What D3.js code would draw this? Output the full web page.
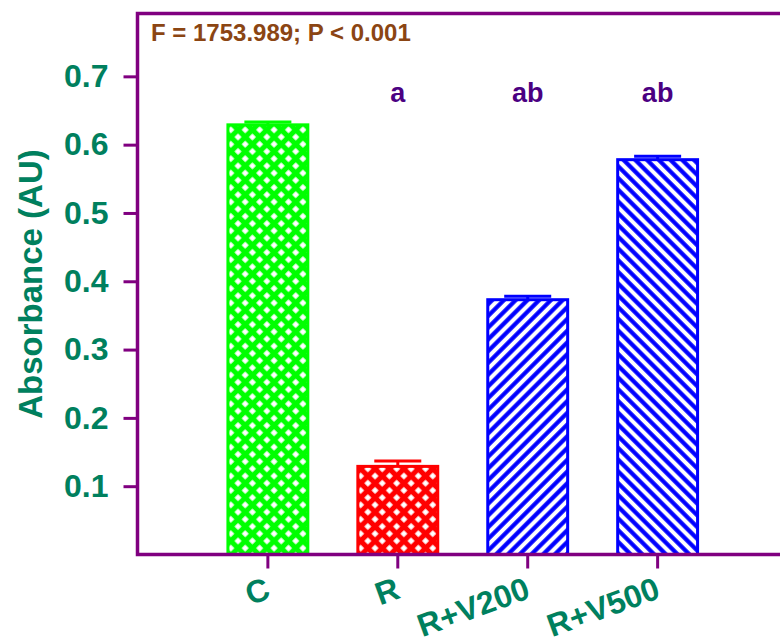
<!DOCTYPE html>
<html>
<head>
<meta charset="utf-8">
<script src="https://cdn.jsdelivr.net/npm/d3@7"></script>
<style>
  body { margin: 0; background: #fff; }
  text { font-family: "Liberation Sans", Arial, sans-serif; font-weight: bold; }
</style>
</head>
<body>
<div id="chart"></div>
<script>
var w = 780, h = 643;

//Data
var categories = ["C", "R", "R+V200", "R+V500"];
var means = [0.629, 0.129, 0.373, 0.578];
var errors = [0.004, 0.008, 0.005, 0.005];
var letters = ["", "a", "ab", "ab"];
var yTicks = [0.1, 0.2, 0.3, 0.4, 0.5, 0.6, 0.7];
var statText = "F = 1753.989; P < 0.001";

var colors = ["#00ff00", "#ff0000", "#0000ff", "#0000ff"];
var fills = ["url(#cross-green)", "url(#cross-red)", "url(#hatch-up)", "url(#hatch-down)"];

// plot frame (note: "top" is reserved on window)
var plotLeft = 137.5, plotTop = 13.5, plotBottom = 554.5;
var axisColor = "#800080", labelColor = "#00805e";

var svg = d3.select("#chart").append("svg")
    .attr("width", w)
    .attr("height", h);

var defs = svg.append("defs");

//crosshatch patterns
function cross(id, col) {
    var s = 10.2;
    var p = defs.append("pattern")
        .attr("id", id)
        .attr("patternUnits", "userSpaceOnUse")
        .attr("width", s).attr("height", s)
        .attr("patternTransform", "rotate(45)");
    p.append("rect").attr("width", s).attr("height", s).attr("fill", "#fff");
    p.append("line").attr("x1", s / 2).attr("x2", s / 2).attr("y1", 0).attr("y2", s)
        .attr("stroke", col).attr("stroke-width", 5.2);
    p.append("line").attr("y1", s / 2).attr("y2", s / 2).attr("x1", 0).attr("x2", s)
        .attr("stroke", col).attr("stroke-width", 5.2);
}
cross("cross-green", "#00ff00");
cross("cross-red", "#ff0000");

//diagonal hatch patterns
function hatch(id, col, angle) {
    var s = 8.3;
    var p = defs.append("pattern")
        .attr("id", id)
        .attr("patternUnits", "userSpaceOnUse")
        .attr("width", s).attr("height", s)
        .attr("patternTransform", "rotate(" + angle + ")");
    p.append("rect").attr("width", s).attr("height", s).attr("fill", "#fff");
    p.append("line").attr("x1", s / 2).attr("x2", s / 2).attr("y1", 0).attr("y2", s)
        .attr("stroke", col).attr("stroke-width", 4.2);
}
hatch("hatch-up", "#0000ff", 45);
hatch("hatch-down", "#0000ff", -45);

//Scales
var x = d3.scaleBand()
    .domain(categories)
    .range([plotLeft, 788])
    .paddingInner(0.385)
    .paddingOuter(0.696);

var y = d3.scaleLinear()
    .domain([0, 0.792])
    .range([plotBottom, plotTop]);

//Bars
var g = svg.append("g");
g.selectAll("rect.bar")
    .data(categories)
    .enter().append("rect")
    .attr("class", "bar")
    .attr("x", function(d) { return x(d); })
    .attr("width", x.bandwidth())
    .attr("y", function(d, i) { return y(means[i]); })
    .attr("height", function(d, i) { return plotBottom - y(means[i]); })
    .attr("fill", function(d, i) { return fills[i]; })
    .attr("stroke", function(d, i) { return colors[i]; })
    .attr("stroke-width", 3);

//Error bars
var capW = 47;
g.selectAll("line.err")
    .data(categories)
    .enter().append("line")
    .attr("class", "err")
    .attr("x1", function(d) { return x(d) + x.bandwidth() / 2; })
    .attr("x2", function(d) { return x(d) + x.bandwidth() / 2; })
    .attr("y1", function(d, i) { return y(means[i]); })
    .attr("y2", function(d, i) { return y(means[i] + errors[i]); })
    .attr("stroke", function(d, i) { return colors[i]; })
    .attr("stroke-width", 3);
g.selectAll("line.cap")
    .data(categories)
    .enter().append("line")
    .attr("class", "cap")
    .attr("x1", function(d) { return x(d) + x.bandwidth() / 2 - capW / 2; })
    .attr("x2", function(d) { return x(d) + x.bandwidth() / 2 + capW / 2; })
    .attr("y1", function(d, i) { return y(means[i] + errors[i]); })
    .attr("y2", function(d, i) { return y(means[i] + errors[i]); })
    .attr("stroke", function(d, i) { return colors[i]; })
    .attr("stroke-width", 3);

//Significance letters
g.selectAll("text.sig")
    .data(categories)
    .enter().append("text")
    .attr("class", "sig")
    .attr("x", function(d) { return x(d) + x.bandwidth() / 2; })
    .attr("y", 102)
    .attr("text-anchor", "middle")
    .attr("font-size", "27px")
    .attr("fill", "#4b0082")
    .text(function(d, i) { return letters[i]; });

//Y axis
var yAxis = svg.append("g")
    .attr("transform", "translate(" + plotLeft + ",0)")
    .call(d3.axisLeft(y).tickValues(yTicks).tickSize(14).tickPadding(15)
        .tickFormat(d3.format(".1f")));
yAxis.select(".domain").remove();
yAxis.selectAll(".tick line").attr("stroke", axisColor).attr("stroke-width", 3);
yAxis.selectAll(".tick text")
    .attr("font-size", "32px")
    .attr("fill", labelColor)
    .style("font-family", '"Liberation Sans", Arial, sans-serif');

//X axis
var xAxis = svg.append("g")
    .attr("transform", "translate(0," + plotBottom + ")")
    .call(d3.axisBottom(x).tickSize(14).tickFormat(""));
xAxis.select(".domain").remove();
xAxis.selectAll(".tick line").attr("stroke", axisColor).attr("stroke-width", 3);
xAxis.selectAll(".tick").append("text")
    .attr("text-anchor", "end")
    .attr("transform", "translate(4,43) rotate(-20)")
    .attr("font-size", "32px")
    .attr("fill", labelColor)
    .text(function(d) { return d; });

//Frame
svg.append("path")
    .attr("d", "M" + w + "," + plotTop + "H" + plotLeft + "V" + plotBottom + "H" + w)
    .attr("fill", "none")
    .attr("stroke", axisColor)
    .attr("stroke-width", 3.5);

//Stat text
svg.append("text")
    .attr("x", 151)
    .attr("y", 41)
    .attr("font-size", "24px")
    .attr("fill", "#8b4513")
    .text(statText);

//Y title
svg.append("text")
    .attr("transform", "translate(42,284) rotate(-90)")
    .attr("text-anchor", "middle")
    .attr("font-size", "33px")
    .attr("fill", labelColor)
    .text("Absorbance (AU)");
</script>
</body>
</html>
